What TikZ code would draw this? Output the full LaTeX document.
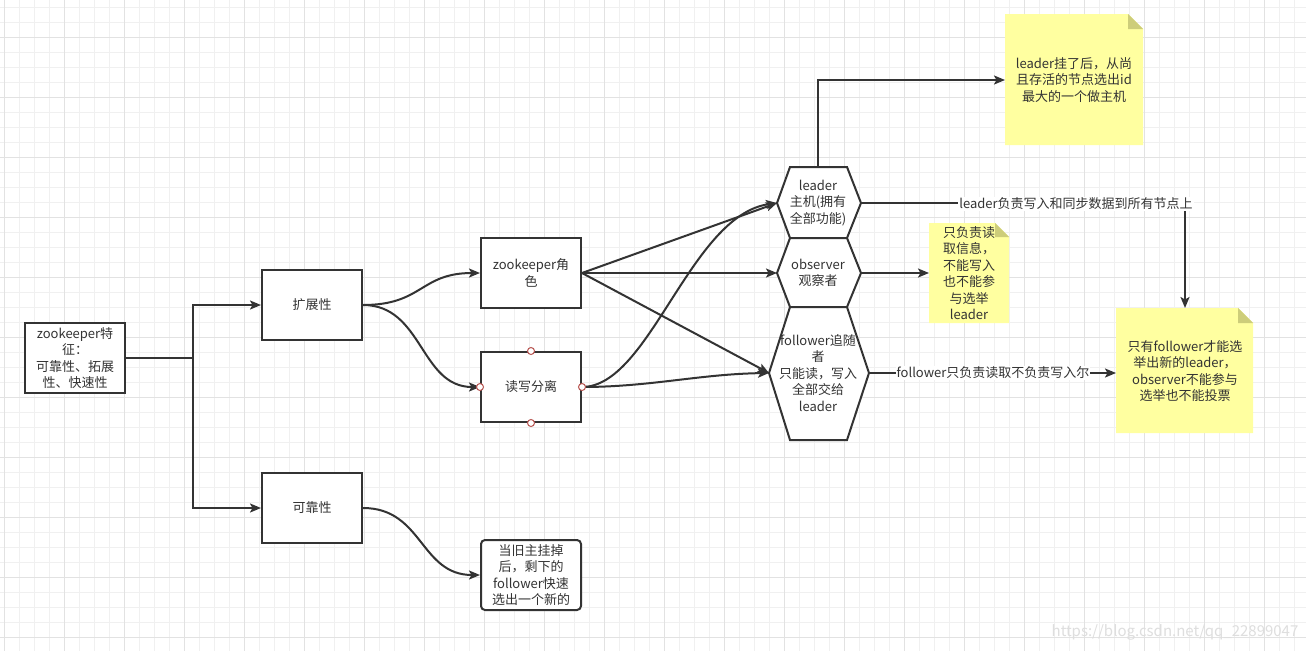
\documentclass[tikz,border=0pt]{standalone}
\usepackage{fontspec}
\setmainfont{Noto Sans CJK SC}
\usetikzlibrary{arrows.meta}
\definecolor{ink}{HTML}{333333}
\definecolor{gridminor}{HTML}{F0F0F0}
\definecolor{gridmajor}{HTML}{E2E2E2}
\definecolor{notefill}{HTML}{FFFFA0}
\definecolor{notefold}{HTML}{CDCD7A}
\definecolor{portred}{HTML}{B85450}
\tikzset{
  base/.style={text=ink,font=\fontsize{13}{16.5}\selectfont,align=center},
  box/.style={base,draw=ink,line width=2pt,fill=white,minimum width=100pt,minimum height=70pt,inner sep=0pt},
  conn/.style={draw=ink,line width=2pt},
  arr/.style={conn,-{Stealth[length=11pt,width=9pt,inset=2.5pt]}},
  notebody/.style={fill=notefill},
  notecorner/.style={fill=notefold},
  port/.style={circle,draw=portred,fill=white,line width=1pt,minimum size=7pt,inner sep=0pt},
  elabel/.style={base,fill=white,inner sep=1pt},
  hexline/.style={draw=ink,line width=2pt,fill=white,line join=miter},
}
\begin{document}
\begin{tikzpicture}[x=1pt,y=-1pt]
\useasboundingbox (0,0) rectangle (1306,651);
\fill[white] (0,0) rectangle (1306,651);
% grid
\foreach \x in {4,19,...,1306} \draw[gridminor,line width=1pt] (\x,0) -- (\x,651);
\foreach \y in {7,22,...,651} \draw[gridminor,line width=1pt] (0,\y) -- (1306,\y);
\foreach \x in {4,64,...,1306} \draw[gridmajor,line width=1pt] (\x,0) -- (\x,651);
\foreach \y in {37,97,...,651} \draw[gridmajor,line width=1pt] (0,\y) -- (1306,\y);

% boxes
\node[box] (zk) at (75,358) {zookeeper特\\征：\\可靠性、拓展\\性、快速性};
\node[box] (ext) at (312,305) {扩展性};
\node[box] (rel) at (312,508) {可靠性};
\node[box] (role) at (531,273) {zookeeper角\\色};
\node[box] (rw) at (531,387) {读写分离};
\node[box,rounded corners=4pt] (old) at (531,575) {当旧主挂掉\\后，剩下的\\follower快速\\选出一个新的};

% hexagons
\draw[hexline] (777,203) -- (790,167) -- (847,167) -- (861,203) -- (847,238) -- (790,238) -- cycle;
\draw[hexline] (777,273) -- (790,238) -- (847,238) -- (861,273) -- (847,307) -- (790,307) -- cycle;
\draw[hexline] (769,373) -- (790,307) -- (847,307) -- (869,373) -- (847,440) -- (790,440) -- cycle;
\coordinate (leaderL) at (777,203);
\coordinate (leaderR) at (861,203);
\coordinate (leaderT) at (818,167);
\coordinate (obsL) at (777,273);
\coordinate (obsR) at (861,273);
\coordinate (folL) at (769,373);
\coordinate (folR) at (869,373);
\node[base] (leader) at (818,203) {leader\\主机(拥有\\全部功能)};
\node[base] (obs) at (818,273) {observer\\观察者};
\node[base] (fol) at (818,373) {follower追随\\者\\只能读，写入\\全部交给\\leader};

% notes
\fill[notebody] (1005,14) -- (1128,14) -- (1143,29) -- (1143,145) -- (1005,145) -- cycle;
\fill[notecorner] (1128,14) -- (1143,29) -- (1128,29) -- cycle;
\node[base] (note1) at (1074,80) {leader挂了后，从尚\\且存活的节点选出id\\最大的一个做主机};
\coordinate (note1L) at (1005,80);

\fill[notebody] (929,223) -- (995,223) -- (1009,237) -- (1009,323) -- (929,323) -- cycle;
\fill[notecorner] (995,223) -- (1009,237) -- (995,237) -- cycle;
\node[base] (note2) at (969,273) {只负责读\\取信息，\\不能写入\\也不能参\\与选举\\leader};
\coordinate (note2L) at (929,273);

\fill[notebody] (1116,308) -- (1238,308) -- (1253,323) -- (1253,433) -- (1116,433) -- cycle;
\fill[notecorner] (1238,308) -- (1253,323) -- (1238,323) -- cycle;
\node[base] (note3) at (1185,371) {只有follower才能选\\举出新的leader，\\observer不能参与\\选举也不能投票};
\coordinate (note3T) at (1185,308);
\coordinate (note3L) at (1116,373);

% connectors
\coordinate (trunk) at (193,358);
\draw[conn] (zk.east) -- (trunk);
\draw[arr] (trunk) |- (ext.west);
\draw[arr] (trunk) |- (rel.west);
\draw[arr] (ext.east) .. controls +(60,0) and +(-60,0) .. (role.west);
\draw[arr] (ext.east) .. controls +(60,0) and +(-60,0) .. (rw.west);
\draw[arr] (rel.east) .. controls +(60,0) and +(-60,0) .. (old.west);
\draw[arr] (role.east) -- (leaderL);
\draw[arr] (role.east) -- (obsL);
\draw[arr] (role.east) -- (folL);
\draw[arr] (rw.east) .. controls (650,387) and (690,215) .. (leaderL);
\draw[arr] (rw.east) .. controls (650,387) and (700,374) .. (folL);
\draw[arr] (leaderT) |- (note1L);
\draw[arr] (obsR) -- (note2L);
\draw[arr] (leaderR) -| (note3T);
\node[elabel] (lbl1) at (1076,204) {leader负责写入和同步数据到所有节点上};
\draw[arr] (folR) -- (note3L);
\node[elabel] (lbl2) at (993,373) {follower只负责读取不负责写入尔};

% ports on 读写分离
\node[port] (p1) at (rw.north) {};
\node[port] (p2) at (rw.south) {};
\node[port] (p3) at (rw.west) {};
\node[port] (p4) at (rw.east) {};

% watermark
\node[text=black!13,font=\fontsize{15}{18}\selectfont] (wm) at (1175,632) {https://blog.csdn.net/qq\_22899047};
\end{tikzpicture}
\end{document}
